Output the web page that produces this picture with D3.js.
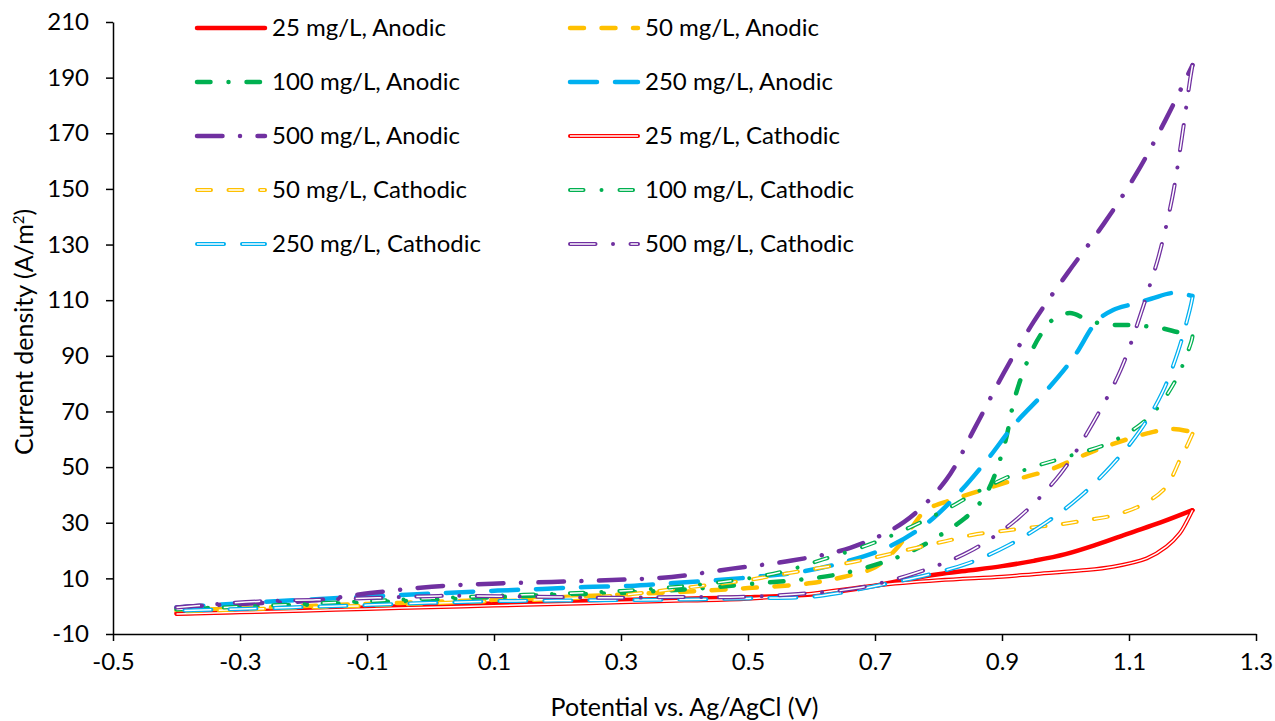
<!DOCTYPE html>
<html>
<head>
<meta charset="utf-8">
<script src="https://cdn.jsdelivr.net/npm/d3@7"></script>
<style>
  body { margin: 0; background: #fff; }
  text { font-family: Lato, "Open Sans", sans-serif; fill: #000; }
</style>
</head>
<body>
<svg id="chart" width="1275" height="721"></svg>
<script>
// 轴刻度
const xTicks = [-0.5, -0.3, -0.1, 0.1, 0.3, 0.5, 0.7, 0.9, 1.1, 1.3];
const yTicks = [-10, 10, 30, 50, 70, 90, 110, 130, 150, 170, 190, 210];

// 阳极扫描 [电位 V, 电流密度 A/m2]
const anodic25 = [[-0.4,-2.5],[-0.3,-2],[-0.2,-1.3],[-0.1,-0.5],[0,0.3],[0.1,1],[0.2,1.6],[0.3,2.2],[0.4,2.7],[0.5,3.2],[0.6,4.2],[0.65,5.5],[0.7,7.3],[0.75,9.6],[0.8,11.5],[0.85,12.9],[0.9,14.4],[0.95,16.3],[1.0,18.7],[1.05,22.2],[1.1,26.2],[1.15,30.1],[1.2,34.5]];
const anodic50 = [[-0.4,-1.5],[-0.3,-0.8],[-0.2,0],[-0.1,0.8],[0,1.5],[0.1,2.3],[0.2,3.2],[0.3,4.2],[0.4,5.2],[0.5,6.5],[0.6,8.3],[0.65,10.5],[0.7,14],[0.735,21],[0.76,29],[0.78,34.5],[0.82,38.2],[0.87,41.8],[0.92,45.4],[0.975,49],[1.03,54.4],[1.08,58.7],[1.13,62.2],[1.17,63.7],[1.2,62.5]];
const anodic100 = [[-0.4,-1],[-0.3,-0.3],[-0.2,0.5],[-0.1,1.3],[0,2.2],[0.1,3.2],[0.2,4.1],[0.3,4.8],[0.4,6],[0.45,6.9],[0.52,8.3],[0.585,9.6],[0.65,11.8],[0.716,16],[0.75,19],[0.782,22.7],[0.842,31.7],[0.865,37],[0.883,44],[0.905,59],[0.92,74.8],[0.943,89.7],[0.962,98],[0.98,103],[1.007,105.4],[1.039,102.5],[1.07,101.2],[1.106,101],[1.15,100],[1.177,98.5],[1.2,97.5]];
const anodic250 = [[-0.4,-0.5],[-0.3,1],[-0.2,2.3],[-0.1,3.4],[0,4.5],[0.106,5.6],[0.176,6.2],[0.243,6.9],[0.314,7.3],[0.382,8.3],[0.453,9.4],[0.519,10.7],[0.587,12.5],[0.657,16.2],[0.724,21.6],[0.783,30],[0.832,40.7],[0.878,53],[0.92,65.5],[0.969,77.3],[1.012,89.2],[1.05,102.6],[1.075,106.5],[1.104,108.5],[1.135,110.5],[1.169,112.6],[1.2,111.5]];
const anodic500 = [[-0.4,-0.5],[-0.374,0],[-0.3,0.8],[-0.187,2],[-0.095,4.7],[0.002,7],[0.097,8.1],[0.191,8.7],[0.286,9.4],[0.38,10.5],[0.475,13.5],[0.569,16.4],[0.661,21],[0.746,30.3],[0.812,45.4],[0.857,64],[0.902,83.5],[0.95,102.3],[1.004,120],[1.061,137.7],[1.113,156],[1.158,175],[1.2,194.5]];

// 阴极扫描
const cathodic25 = [[1.2,34.5],[1.19,30],[1.18,26.2],[1.159,21.4],[1.128,17.2],[1.075,14.2],[1.023,12.8],[0.95,11.5],[0.9,10.6],[0.8,9.3],[0.7,7.4],[0.6,4.5],[0.5,2.7],[0.4,2],[0.3,1.4],[0.2,0.8],[0.1,0.2],[0,-0.4],[-0.1,-1],[-0.2,-1.6],[-0.3,-2.2],[-0.4,-2.8]];
const cathodic50 = [[1.2,62],[1.19,57],[1.18,52.5],[1.157,42.5],[1.12,36.4],[1.078,32.8],[1.035,31],[0.994,29.5],[0.947,28.3],[0.9,27],[0.853,25.6],[0.812,23.4],[0.771,21.3],[0.724,18.8],[0.681,16.6],[0.64,14.8],[0.593,13],[0.546,11.2],[0.5,9.4],[0.4,6.6],[0.3,4],[0.2,2.6],[0.1,1.8],[0,1],[-0.1,0.2],[-0.2,-0.5],[-0.3,-1.2],[-0.4,-2]];
const cathodic100 = [[1.2,97],[1.198,95],[1.172,80.6],[1.13,67.6],[1.072,59],[1.002,53.7],[0.936,49],[0.873,42.5],[0.812,34.8],[0.75,27.8],[0.689,22],[0.618,16.8],[0.558,12.6],[0.5,10],[0.4,7.2],[0.3,5.5],[0.2,4.5],[0.1,3.7],[0,2.8],[-0.1,1.8],[-0.2,0.8],[-0.3,-0.2],[-0.4,-1.2]];
const cathodic250 = [[1.2,111],[1.196,106.8],[1.177,91.4],[1.152,76.6],[1.117,63],[1.073,50.7],[1.024,39.6],[0.971,30.3],[0.911,22],[0.848,15.5],[0.782,11.2],[0.716,8],[0.645,4.8],[0.6,3.4],[0.5,2.8],[0.4,2.4],[0.3,2.2],[0.2,2],[0.1,1.8],[0,1.2],[-0.1,0.4],[-0.2,-0.3],[-0.3,-1],[-0.4,-1.6]];
const cathodic500 = [[1.2,194.5],[1.196,189],[1.183,168],[1.168,146.7],[1.147,126],[1.133,115.5],[1.119,105.4],[1.087,85],[1.043,65.8],[0.993,47.9],[0.927,32],[0.85,19.8],[0.765,12],[0.672,6.5],[0.579,4.4],[0.484,3.3],[0.39,3.3],[0.295,3],[0.199,3.3],[0.106,3.6],[0.013,3.7],[-0.083,3],[-0.18,2.3],[-0.271,1.7],[-0.35,0.5],[-0.4,-0.5]];

// 线型
const dashes = {
    solid: null,
    dash: "14,17.5",
    dashDot: "13.5,18,0.01,18",
    longDash: "27,18",
    longDashDot: "25.5,17.5,0.01,17.5"
};

const series = [
    { name: "25 mg/L, Anodic", data: anodic25, color: "#FF0000", dash: "solid", double: false },
    { name: "50 mg/L, Anodic", data: anodic50, color: "#FFC000", dash: "dash", double: false },
    { name: "100 mg/L, Anodic", data: anodic100, color: "#00B050", dash: "dashDot", double: false },
    { name: "250 mg/L, Anodic", data: anodic250, color: "#00B0F0", dash: "longDash", double: false },
    { name: "500 mg/L, Anodic", data: anodic500, color: "#7030A0", dash: "longDashDot", double: false },
    { name: "25 mg/L, Cathodic", data: cathodic25, color: "#FF0000", dash: "solid", double: true },
    { name: "50 mg/L, Cathodic", data: cathodic50, color: "#FFC000", dash: "dash", double: true },
    { name: "100 mg/L, Cathodic", data: cathodic100, color: "#00B050", dash: "dashDot", double: true },
    { name: "250 mg/L, Cathodic", data: cathodic250, color: "#00B0F0", dash: "longDash", double: true },
    { name: "500 mg/L, Cathodic", data: cathodic500, color: "#7030A0", dash: "longDashDot", double: true }
];

const svg = d3.select("#chart");

// 比例尺
const x = d3.scaleLinear().domain([-0.5, 1.3]).range([113, 1256]);
const y = d3.scaleLinear().domain([-10, 210]).range([634, 22]);

// X轴
const xAxis = svg.append("g")
    .attr("transform", `translate(0,${y(-10)})`)
    .call(d3.axisBottom(x).tickValues(xTicks).tickSizeInner(7).tickSizeOuter(0).tickPadding(12)
        .tickFormat(d => d.toFixed(1)));

// Y轴
const yAxis = svg.append("g")
    .attr("transform", `translate(${x(-0.5)},0)`)
    .call(d3.axisLeft(y).tickValues(yTicks).tickSizeInner(7).tickSizeOuter(0).tickPadding(17)
        .tickFormat(d => String(d)));

[xAxis, yAxis].forEach(g => {
    g.select(".domain").attr("stroke", "#000").attr("stroke-width", 1.5);
    g.selectAll(".tick line").attr("stroke", "#000").attr("stroke-width", 1.5);
    g.selectAll(".tick text").style("font-size", "24px").attr("fill", "#000");
});

// 轴标题
svg.append("text")
    .attr("x", (x(-0.5) + x(1.3)) / 2)
    .attr("y", 716)
    .attr("text-anchor", "middle")
    .style("font-size", "25px")
    .text("Potential vs. Ag/AgCl (V)");

const yTitle = svg.append("text")
    .attr("transform", "translate(33,332) rotate(-90)")
    .attr("text-anchor", "middle")
    .style("font-size", "25px");
yTitle.append("tspan").text("Current density (A/m");
yTitle.append("tspan").attr("baseline-shift", "super").style("font-size", "15px").text("2");
yTitle.append("tspan").text(")");

// 曲线
const line = d3.line()
    .x(d => x(d[0]))
    .y(d => y(d[1]))
    .curve(d3.curveCatmullRom.alpha(0.5));

const plot = svg.append("g");

function drawStroke(g, pathD, s) {
    if (s.double) {
        g.append("path")
            .attr("d", pathD)
            .attr("fill", "none")
            .attr("stroke", s.color)
            .attr("stroke-width", 4)
            .attr("stroke-linecap", "round")
            .attr("stroke-linejoin", "round")
            .attr("stroke-dasharray", dashes[s.dash]);
        g.append("path")
            .attr("d", pathD)
            .attr("fill", "none")
            .attr("stroke", "#fff")
            .attr("stroke-width", 1.5)
            .attr("stroke-linecap", "butt")
            .attr("stroke-linejoin", "round")
            .attr("stroke-dasharray", dashes[s.dash]);
    } else {
        g.append("path")
            .attr("d", pathD)
            .attr("fill", "none")
            .attr("stroke", s.color)
            .attr("stroke-width", 4.5)
            .attr("stroke-linecap", "round")
            .attr("stroke-linejoin", "round")
            .attr("stroke-dasharray", dashes[s.dash]);
    }
}

series.forEach(s => {
    drawStroke(plot.append("g").attr("class", "series"), line(s.data), s);
});

// 图例
const legend = svg.append("g");
series.forEach((s, i) => {
    const col = i % 2, row = Math.floor(i / 2);
    const lx = col === 0 ? 197 : 570;
    const ly = 28 + row * 54;
    const g = legend.append("g");
    drawStroke(g, `M${lx},${ly}H${lx + 68}`, s);
    g.append("text")
        .attr("x", lx + 75)
        .attr("y", ly)
        .attr("dy", "0.35em")
        .style("font-size", "24px")
        .text(s.name);
});
</script>
</body>
</html>
